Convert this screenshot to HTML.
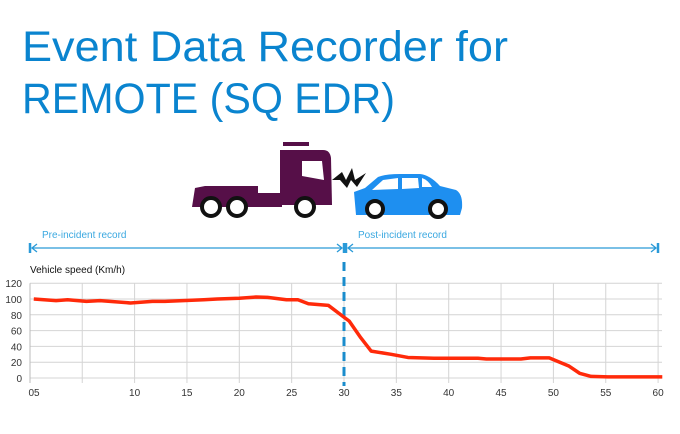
<!DOCTYPE html>
<html><head><meta charset="utf-8"><style>
html,body{margin:0;padding:0;background:#fff;}
svg{display:block;font-family:"Liberation Sans",sans-serif;}
</style></head><body>
<svg id="chart" width="680" height="434" viewBox="0 0 680 434">
  <text x="22" y="61" font-size="43" fill="#0a84cf" textLength="486" lengthAdjust="spacingAndGlyphs">Event Data Recorder for</text>
  <text x="22" y="113" font-size="43" fill="#0a84cf" textLength="373" lengthAdjust="spacingAndGlyphs">REMOTE (SQ EDR)</text>

  <g fill="#560f48">
    <rect x="283" y="142" width="26" height="4" />
    <path d="M280 150 L323 150 Q330 150 331 158 L332 205 L280 205 Z"/>
    <path d="M195 188 L205 186 L258 186 L258 193 L282 193 L282 207 L192 207 Z"/>
    <path d="M302 161 L322 161 L324 180 L302 176 Z" fill="#fff"/>
  </g>
  <g fill="#fff" stroke="#111" stroke-width="4">
    <circle cx="211" cy="207" r="9"/><circle cx="237" cy="207" r="9"/><circle cx="305" cy="207" r="9"/>
  </g>
  <path d="M332 180 L342 172 L346 180 L352 168 L355 180 L366 173 L357 187 L351 180 L347 188 L340 180 Z" fill="#111"/>
  <g>
    <path d="M356 215 L354 192 L365 188 L378 177 Q385 174 400 174 L420 174 Q430 175 440 186 L456 190 Q463 194 462 208 L460 215 Z" fill="#1e8ff0"/>
    <path d="M383 180 L398 178 L398 189 L372 190 Z M402 178 L418 178 L419 188 L402 189 Z M422 178 Q428 180 432 187 L422 187 Z" fill="#fff"/>
    <circle cx="375" cy="209" r="8" fill="#fff" stroke="#111" stroke-width="4"/>
    <circle cx="438" cy="209" r="8" fill="#fff" stroke="#111" stroke-width="4"/>
  </g>

  <g id="plot"></g>
</svg>
<script>
const xValues=[0.37,2.5,3.6,5.4,6.7,9.6,11.7,12.9,14.6,16.6,17.9,20,21.6,22.7,24.5,25.6,26.6,28.5,30.1,30.5,31.6,32.6,34.5,36.1,38.6,42.8,43.6,46.9,47.8,49.6,51.5,52.5,53.6,55.2,60.4];
const speedValues=[100,98,99,97,98,95,97,97,98,99,100,101,102.5,102,99,99,94,92,76,72,51,34,30,26,25,25,24,24,25.5,25.5,15,6,2,1.5,1.5];
const yTicks=[0,20,40,60,80,100,120];
const xTicks=[5,10,15,20,25,30,35,40,45,50,55,60];
const xTickLabels=["","10","15","20","25","30","35","40","45","50","55","60"];
const NS="http://www.w3.org/2000/svg";
const X=v=>344+(v-30)*10.47;
const Y=v=>378-v*0.79;
const g=document.getElementById('plot');
function mk(t,a,p){const e=document.createElementNS(NS,t);for(const k in a)e.setAttribute(k,a[k]);(p||g).appendChild(e);return e;}
// grid
yTicks.forEach(v=>{
  const l=mk('line',{x1:30,x2:662,y1:Y(v),y2:Y(v),stroke:'#d4d4d4','stroke-width':1});
  
  
  const t=mk('text',{x:22,y:Y(v)+4,'font-size':10,fill:'#333','text-anchor':'end'});
  t.textContent=v;
  
  
});
xTicks.forEach((v,i)=>{
  const l=mk('line',{x1:X(v),x2:X(v),y1:Y(120),y2:Y(0)+5,stroke:'#d4d4d4','stroke-width':1});
  
  
  if(xTickLabels[i]){
    const t=mk('text',{x:X(v),y:396,'font-size':10,fill:'#333','text-anchor':'middle'});
    t.textContent=xTickLabels[i];
    
    
  }
});
const ax=mk('line',{x1:30,x2:30,y1:Y(120),y2:Y(0)+5,stroke:'#bbb','stroke-width':1});


const t0=mk('text',{x:34,y:396,'font-size':10,fill:'#333','text-anchor':'middle'});
t0.textContent='05';


const yt=mk('text',{x:30,y:273,'font-size':10,fill:'#111'});
yt.textContent='Vehicle speed (Km/h)';


// arrows
function arrow(x1,x2,name,label){
  const a=mk('g',{stroke:'#2a9ad8',fill:'none','stroke-width':1.3});
  
  
  mk('line',{x1:x1+2,x2:x2-2,y1:248,y2:248},a);
  mk('path',{d:`M${x1+7} 244 L${x1+2} 248 L${x1+7} 252 M${x2-7} 244 L${x2-2} 248 L${x2-7} 252`},a);
  mk('line',{x1:x1,x2:x1,y1:243,y2:253,'stroke-width':2.5},a);
  mk('line',{x1:x2,x2:x2,y1:243,y2:253,'stroke-width':2.5},a);
  const t=mk('text',{x:x1+12,y:238,'font-size':10,fill:'#3aa8e0'});
  t.textContent=label;
  
  
}
arrow(30,344,'pre-incident-arrow','Pre-incident record');
arrow(346,658,'post-incident-arrow','Post-incident record');
const d=mk('line',{x1:344,x2:344,y1:262,y2:386,stroke:'#1a8ccc','stroke-width':3,'stroke-dasharray':'9,6'});


const p=mk('polyline',{points:xValues.map((v,i)=>X(v)+','+Y(speedValues[i])).join(' '),fill:'none',stroke:'#ff2a0a','stroke-width':3.5,'stroke-linejoin':'round'});


</script>
</body></html>
